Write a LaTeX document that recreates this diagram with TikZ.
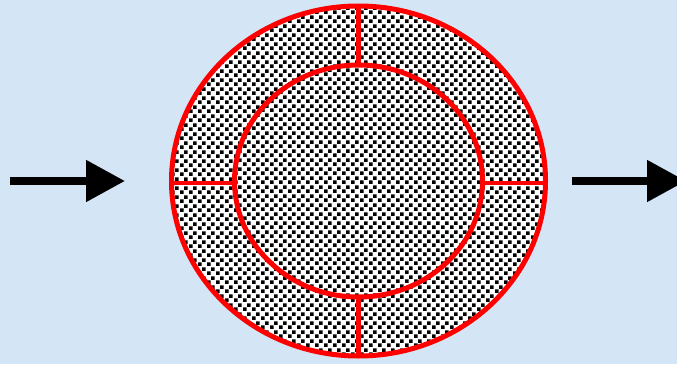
\documentclass[tikz,border=0pt]{standalone}
\usetikzlibrary{arrows.meta,patterns}
\pgfdeclarepatternformonly{sqdots}{\pgfpointorigin}{\pgfqpoint{9pt}{9pt}}{\pgfqpoint{9pt}{9pt}}{%
  \pgfpathrectangle{\pgfqpoint{0pt}{0pt}}{\pgfqpoint{4pt}{4pt}}%
  \pgfpathrectangle{\pgfqpoint{4.5pt}{4.5pt}}{\pgfqpoint{4pt}{4pt}}%
  \pgfusepath{fill}}
\definecolor{bgblue}{RGB}{212,229,246}
\tikzset{
  ring/.style={draw=red,line width=5pt},
  spoke/.style={draw=red,line width=4.5pt},
  flow/.style={line width=8pt,-{Triangle[length=39pt,width=40pt]}}
}
\begin{document}
\begin{tikzpicture}[x=1pt,y=-1pt]
\clip (0,0) rectangle (677,364);
\fill[bgblue] (0,0) rectangle (677,364);
\coordinate (c) at (358.5,181);
\fill[white] (c) ellipse [x radius=187,y radius=175];
\fill[pattern=sqdots] (c) ellipse [x radius=187,y radius=175];
\draw[spoke] (358.5,6) -- (358.5,356);
\draw[spoke] (171.5,183) -- (545.5,183);
\fill[white] (c) ellipse [x radius=124,y radius=116];
\fill[pattern=sqdots] (c) ellipse [x radius=124,y radius=116];
\draw[ring] (c) ellipse [x radius=124,y radius=116];
\draw[ring] (c) ellipse [x radius=187,y radius=175];
\coordinate (a1) at (10,181);
\coordinate (a2) at (125,181);
\coordinate (b1) at (572,181);
\coordinate (b2) at (686,181);
\draw[flow] (a1) -- (a2);
\draw[flow] (b1) -- (b2);
\end{tikzpicture}
\end{document}
